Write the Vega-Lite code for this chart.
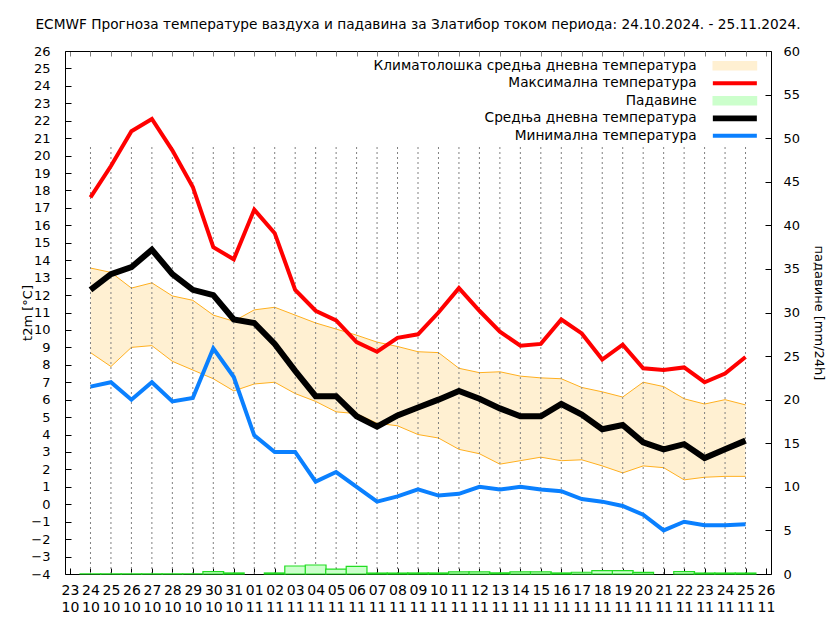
{
  "$schema": "https://vega.github.io/schema/vega-lite/v6.json",
  "width": 706,
  "height": 523,
  "autosize": {"type": "none"},
  "padding": {"left": 65, "top": 51, "right": 68, "bottom": 44},
  "title": {
    "text": "ECMWF Прогноза температуре ваздуха и падавина за Златибор током периода: 24.10.2024. - 25.11.2024.",
    "fontSize": 13.7,
    "fontWeight": "normal",
    "font": "DejaVu Sans",
    "anchor": "middle",
    "offset": 13,
    "color": "black"
  },
  "config": {
    "font": "DejaVu Sans",
    "view": {"stroke": "black", "strokeWidth": 1}
  },
  "data": {
    "values": [
      {"date": "2024-10-24", "tmax": 17.6, "tmean": 12.3, "tmin": 6.75, "clim_lo": 8.7, "clim_hi": 13.55, "precip": 0.02},
      {"date": "2024-10-25", "tmax": 19.4, "tmean": 13.2, "tmin": 7.0, "clim_lo": 7.9, "clim_hi": 13.3, "precip": 0.02},
      {"date": "2024-10-26", "tmax": 21.4, "tmean": 13.6, "tmin": 6.0, "clim_lo": 9.0, "clim_hi": 12.4, "precip": 0.02},
      {"date": "2024-10-27", "tmax": 22.1, "tmean": 14.6, "tmin": 7.0, "clim_lo": 9.1, "clim_hi": 12.7, "precip": 0.02},
      {"date": "2024-10-28", "tmax": 20.3, "tmean": 13.2, "tmin": 5.9, "clim_lo": 8.2, "clim_hi": 11.95, "precip": 0.02},
      {"date": "2024-10-29", "tmax": 18.2, "tmean": 12.3, "tmin": 6.1, "clim_lo": 7.7, "clim_hi": 11.7, "precip": 0.02},
      {"date": "2024-10-30", "tmax": 14.75, "tmean": 12.0, "tmin": 8.95, "clim_lo": 7.2, "clim_hi": 10.85, "precip": 0.27},
      {"date": "2024-10-31", "tmax": 14.05, "tmean": 10.6, "tmin": 7.3, "clim_lo": 6.5, "clim_hi": 10.5, "precip": 0.12},
      {"date": "2024-11-01", "tmax": 16.9, "tmean": 10.4, "tmin": 3.95, "clim_lo": 6.9, "clim_hi": 11.15, "precip": 0},
      {"date": "2024-11-02", "tmax": 15.55, "tmean": 9.2, "tmin": 3.0, "clim_lo": 7.0, "clim_hi": 11.3, "precip": 0.12},
      {"date": "2024-11-03", "tmax": 12.3, "tmean": 7.65, "tmin": 3.0, "clim_lo": 6.35, "clim_hi": 10.85, "precip": 0.92},
      {"date": "2024-11-04", "tmax": 11.1, "tmean": 6.2, "tmin": 1.3, "clim_lo": 5.9, "clim_hi": 10.4, "precip": 1.03},
      {"date": "2024-11-05", "tmax": 10.55, "tmean": 6.2, "tmin": 1.85, "clim_lo": 5.3, "clim_hi": 10.05, "precip": 0.57},
      {"date": "2024-11-06", "tmax": 9.3, "tmean": 5.05, "tmin": 1.0, "clim_lo": 5.2, "clim_hi": 9.7, "precip": 0.88},
      {"date": "2024-11-07", "tmax": 8.75, "tmean": 4.45, "tmin": 0.15, "clim_lo": 4.65, "clim_hi": 9.3, "precip": 0.11},
      {"date": "2024-11-08", "tmax": 9.55, "tmean": 5.1, "tmin": 0.45, "clim_lo": 4.5, "clim_hi": 9.05, "precip": 0.11},
      {"date": "2024-11-09", "tmax": 9.75, "tmean": 5.55, "tmin": 0.85, "clim_lo": 4.0, "clim_hi": 8.75, "precip": 0.12},
      {"date": "2024-11-10", "tmax": 11.0, "tmean": 6.0, "tmin": 0.5, "clim_lo": 3.8, "clim_hi": 8.7, "precip": 0.12},
      {"date": "2024-11-11", "tmax": 12.4, "tmean": 6.5, "tmin": 0.6, "clim_lo": 3.15, "clim_hi": 7.8, "precip": 0.25},
      {"date": "2024-11-12", "tmax": 11.1, "tmean": 6.05, "tmin": 1.0, "clim_lo": 2.9, "clim_hi": 7.55, "precip": 0.25},
      {"date": "2024-11-13", "tmax": 9.9, "tmean": 5.5, "tmin": 0.85, "clim_lo": 2.3, "clim_hi": 7.6, "precip": 0.12},
      {"date": "2024-11-14", "tmax": 9.1, "tmean": 5.05, "tmin": 1.0, "clim_lo": 2.5, "clim_hi": 7.35, "precip": 0.25},
      {"date": "2024-11-15", "tmax": 9.2, "tmean": 5.05, "tmin": 0.85, "clim_lo": 2.7, "clim_hi": 7.25, "precip": 0.25},
      {"date": "2024-11-16", "tmax": 10.6, "tmean": 5.75, "tmin": 0.75, "clim_lo": 2.5, "clim_hi": 7.2, "precip": 0.12},
      {"date": "2024-11-17", "tmax": 9.8, "tmean": 5.15, "tmin": 0.3, "clim_lo": 2.55, "clim_hi": 6.7, "precip": 0.2},
      {"date": "2024-11-18", "tmax": 8.3, "tmean": 4.3, "tmin": 0.15, "clim_lo": 2.2, "clim_hi": 6.45, "precip": 0.38},
      {"date": "2024-11-19", "tmax": 9.15, "tmean": 4.55, "tmin": -0.1, "clim_lo": 1.8, "clim_hi": 6.15, "precip": 0.38},
      {"date": "2024-11-20", "tmax": 7.8, "tmean": 3.55, "tmin": -0.6, "clim_lo": 2.2, "clim_hi": 7.0, "precip": 0.19},
      {"date": "2024-11-21", "tmax": 7.7, "tmean": 3.15, "tmin": -1.5, "clim_lo": 2.1, "clim_hi": 6.75, "precip": 0},
      {"date": "2024-11-22", "tmax": 7.85, "tmean": 3.45, "tmin": -1.0, "clim_lo": 1.4, "clim_hi": 6.05, "precip": 0.27},
      {"date": "2024-11-23", "tmax": 7.0, "tmean": 2.65, "tmin": -1.2, "clim_lo": 1.55, "clim_hi": 5.75, "precip": 0.11},
      {"date": "2024-11-24", "tmax": 7.5, "tmean": 3.15, "tmin": -1.2, "clim_lo": 1.6, "clim_hi": 6.0, "precip": 0.11},
      {"date": "2024-11-25", "tmax": 8.45, "tmean": 3.65, "tmin": -1.15, "clim_lo": 1.6, "clim_hi": 5.7, "precip": 0.11}
    ]
  },
  "layer": [
    {
      "mark": {"type": "area", "opacity": 1},
      "encoding": {
        "x": {
          "field": "date",
          "type": "temporal",
          "scale": {
            "type": "utc",
            "domain": [
              {"year": 2024, "month": 10, "date": 23, "utc": true},
              {"year": 2024, "month": 11, "date": 26, "utc": true}
            ]
          },
          "axis": {
            "orient": "bottom",
            "tickCount": {"interval": "day", "step": 1},
            "labelExpr": "[utcFormat(datum.value, '%d'), utcFormat(datum.value, '%m')]",
            "labelFontSize": 14,
            "labelColor": "black",
            "labelLineHeight": 17,
            "labelOverlap": false,
            "labelFlush": false,
            "labelAngle": 0,
            "labelPadding": 15,
            "tickSize": -6,
            "tickColor": "black",
            "grid": false,
            "domain": false,
            "title": null
          }
        },
        "y": {
          "field": "clim_lo",
          "type": "quantitative",
          "scale": {"domain": [-4, 26], "nice": false, "zero": false},
          "axis": {
            "orient": "left",
            "values": [-4, -3, -2, -1, 0, 1, 2, 3, 4, 5, 6, 7, 8, 9, 10, 11, 12, 13, 14, 15, 16, 17, 18, 19, 20, 21, 22, 23, 24, 25, 26],
            "tickSize": -6,
            "tickColor": "black",
            "labelFontSize": 13,
            "labelColor": "black",
            "labelPadding": 21,
            "labelOverlap": false,
            "labelFlush": false,
            "grid": false,
            "domain": false,
            "title": "t2m [°C]",
            "titleFontSize": 13,
            "titleFontWeight": "normal",
            "titleColor": "black",
            "titlePadding": -4
          }
        },
        "y2": {"field": "clim_hi"},
        "color": {
          "datum": "Климатолошка средња дневна температура",
          "type": "nominal",
          "scale": {
            "domain": ["Климатолошка средња дневна температура", "Максимална температура", "Падавине", "Средња дневна температура", "Минимална температура"],
            "range": ["#FFF0D2", "#FF0000", "#CCFFCC", "#000000", "#0A80FF"]
          },
          "legend": {
            "orient": "none",
            "legendX": 663,
            "legendY": 8,
            "title": null,
            "padding": 0,
            "labelAlign": "right",
            "labelOffset": -45,
            "labelFontSize": 13.7,
            "labelColor": "black",
            "labelLimit": 600,
            "symbolSize": 64,
            "rowPadding": 2.5,
            "symbolOpacity": 1,
            "encode": {
              "symbols": {
                "update": {
                  "shape": {"signal": "(datum.value === 'Падавине' || datum.value === 'Климатолошка средња дневна температура') ? 'M-5.4,-1H5.4V1H-5.4Z' : (datum.value === 'Средња дневна температура' ? 'M-5.5,-0.7H5.5V0.7H-5.5Z' : 'M-5.5,-0.5H5.5V0.5H-5.5Z')"},
                  "fill": {"signal": "datum.value === 'Падавине' ? '#CCFFCC' : (datum.value === 'Климатолошка средња дневна температура' ? '#FFF0D2' : (datum.value === 'Максимална температура' ? '#FF0000' : (datum.value === 'Средња дневна температура' ? '#000000' : '#0A80FF')))"},
                  "stroke": {"signal": "datum.value === 'Падавине' ? '#22DD22' : (datum.value === 'Климатолошка средња дневна температура' ? '#FFB020' : null)"},
                  "strokeWidth": {"signal": "(datum.value === 'Падавине' || datum.value === 'Климатолошка средња дневна температура') ? 1.5 : 0"},
                  "opacity": {"value": 1}
                }
              }
            }
          }
        }
      }
    },
    {
      "mark": {"type": "line", "color": "#FFB020", "strokeWidth": 1},
      "encoding": {
        "x": {"field": "date", "type": "temporal", "axis": null},
        "y": {"field": "clim_hi", "type": "quantitative", "scale": {"domain": [-4, 26], "nice": false, "zero": false}, "axis": null}
      }
    },
    {
      "mark": {"type": "line", "color": "#FFB020", "strokeWidth": 1},
      "encoding": {
        "x": {"field": "date", "type": "temporal", "axis": null},
        "y": {"field": "clim_lo", "type": "quantitative", "scale": {"domain": [-4, 26], "nice": false, "zero": false}, "axis": null}
      }
    },
    {
      "mark": {"type": "rule", "color": "#808080", "strokeDash": [2, 3], "strokeWidth": 1},
      "encoding": {
        "x": {
          "field": "date",
          "type": "temporal",
          "axis": {
            "orient": "top",
            "tickCount": {"interval": "day", "step": 1},
            "labels": false,
            "tickSize": -5,
            "tickColor": "#808080",
            "grid": false,
            "domain": false,
            "title": null
          }
        },
        "y": {"datum": -4, "type": "quantitative", "scale": {"domain": [-4, 26], "nice": false, "zero": false}, "axis": null},
        "y2": {"datum": 20.65}
      }
    },
    {
      "mark": {"type": "line", "strokeWidth": 4},
      "encoding": {
        "x": {"field": "date", "type": "temporal", "axis": null},
        "y": {"field": "tmax", "type": "quantitative", "scale": {"domain": [-4, 26], "nice": false, "zero": false}, "axis": null},
        "color": {"datum": "Максимална температура", "type": "nominal"}
      }
    },
    {
      "transform": [{"filter": "datum.precip > 0"}],
      "mark": {"type": "bar", "width": 20.765, "stroke": "#22DD22", "strokeWidth": 1.2},
      "encoding": {
        "x": {"field": "date", "type": "temporal", "axis": null},
        "y": {
          "field": "precip",
          "type": "quantitative",
          "scale": {"domain": [0, 60], "nice": false, "zero": true},
          "axis": {
            "orient": "right",
            "values": [0, 5, 10, 15, 20, 25, 30, 35, 40, 45, 50, 55, 60],
            "tickSize": -6,
            "tickColor": "black",
            "labelFontSize": 13,
            "labelColor": "black",
            "labelPadding": 18,
            "labelOverlap": false,
            "labelFlush": false,
            "grid": false,
            "domain": false,
            "title": "падавине [mm/24h]",
            "titleFontSize": 13,
            "titleFontWeight": "normal",
            "titleColor": "black",
            "titlePadding": 12
          }
        },
        "color": {"datum": "Падавине", "type": "nominal"}
      }
    },
    {
      "mark": {"type": "line", "strokeWidth": 6},
      "encoding": {
        "x": {"field": "date", "type": "temporal", "axis": null},
        "y": {"field": "tmean", "type": "quantitative", "scale": {"domain": [-4, 26], "nice": false, "zero": false}, "axis": null},
        "color": {"datum": "Средња дневна температура", "type": "nominal"}
      }
    },
    {
      "mark": {"type": "line", "strokeWidth": 4},
      "encoding": {
        "x": {"field": "date", "type": "temporal", "axis": null},
        "y": {"field": "tmin", "type": "quantitative", "scale": {"domain": [-4, 26], "nice": false, "zero": false}, "axis": null},
        "color": {"datum": "Минимална температура", "type": "nominal"}
      }
    }
  ],
  "resolve": {"scale": {"y": "independent"}}
}
